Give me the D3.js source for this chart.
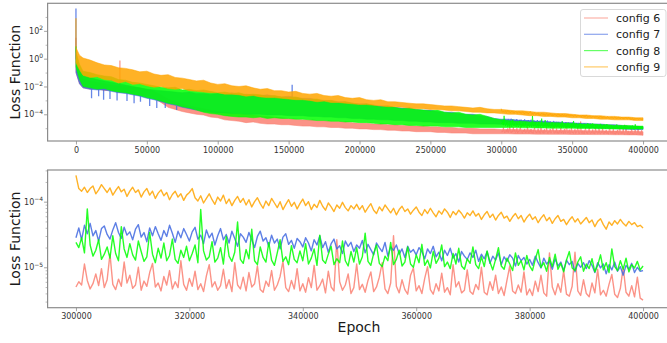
<!DOCTYPE html>
<html>
<head>
<meta charset="utf-8">
<script src="https://cdn.jsdelivr.net/npm/d3@7"></script>
<style>
  body { margin: 0; background: #fff; }
  text { font-family: "DejaVu Sans", sans-serif; }
</style>
</head>
<body>
<svg id="chart" width="667" height="343"></svg>
<script>
// loss values are kept as log10(loss)
const configs = ["config 6", "config 7", "config 8", "config 9"];
const colors = ["#fa8072", "#4169e1", "#00ff00", "#ffa500"];

// full run: the noisy curves are so dense they read as bands,
// so keep the upper / lower edge of each band
const bandEpochs = [0, 2500].concat(d3.range(5000, 400001, 5000));

const band6Hi = [
  0.0, -1.0, -1.5, -1.6, -1.7, -1.8, -1.9, -1.95, -2.0, -2.05,
  -2.1, -2.2, -2.35, -2.6, -2.9, -3.1, -3.3, -3.4, -3.5, -3.6,
  -3.7, -3.8, -3.85, -3.9, -3.95, -4.0, -4.05, -4.1, -4.15, -4.2,
  -4.25, -4.3, -4.35, -4.4, -4.4, -4.45, -4.45, -4.5, -4.5, -4.55,
  -4.6, -4.65, -4.65, -4.7, -4.7, -4.75, -4.75, -4.8, -4.8, -4.85,
  -4.85, -4.9, -4.9, -4.95, -4.95, -5.0, -5.0, -5.0, -5.05, -5.05,
  -5.05, -5.1, -5.1, -5.1, -5.12, -5.12, -5.14, -5.14, -5.15, -5.15,
  -5.16, -5.16, -5.17, -5.18, -5.18, -5.19, -5.2, -5.2, -5.21, -5.22,
  -5.22, -5.25
];
const band6Lo = [
  -1.0, -1.8, -2.1, -2.2, -2.15, -2.3, -2.25, -2.4, -2.45, -2.5,
  -2.6, -2.65, -2.85, -3.15, -3.5, -3.65, -3.8, -3.9, -4.0, -4.05,
  -4.2, -4.25, -4.4, -4.45, -4.5, -4.6, -4.55, -4.65, -4.7, -4.7,
  -4.75, -4.75, -4.8, -4.85, -4.85, -4.9, -4.9, -4.95, -4.95, -5.0,
  -5.0, -5.05, -5.05, -5.1, -5.1, -5.15, -5.15, -5.2, -5.2, -5.25,
  -5.25, -5.25, -5.3, -5.3, -5.35, -5.35, -5.35, -5.4, -5.4, -5.4,
  -5.4, -5.4, -5.4, -5.42, -5.42, -5.42, -5.43, -5.43, -5.44, -5.44,
  -5.44, -5.45, -5.45, -5.45, -5.46, -5.46, -5.46, -5.47, -5.47, -5.48,
  -5.48, -5.5
];
const band7Hi = [
  0.0, -0.8, -1.2, -1.35, -1.5, -1.6, -1.7, -1.8, -1.9, -2.0,
  -2.1, -2.2, -2.25, -2.3, -2.35, -2.4, -2.45, -2.4, -2.5, -2.5,
  -2.55, -2.5, -2.55, -2.45, -2.6, -2.55, -2.6, -2.65, -2.6, -2.7,
  -2.75, -2.7, -2.8, -2.85, -2.85, -2.95, -3.0, -3.0, -3.1, -3.1,
  -3.2, -3.25, -3.25, -3.35, -3.4, -3.4, -3.5, -3.55, -3.55, -3.65,
  -3.7, -3.7, -3.8, -3.85, -3.85, -3.95, -4.0, -4.0, -4.1, -4.15,
  -4.3, -4.35, -4.35, -4.4, -4.45, -4.45, -4.5, -4.5, -4.55, -4.55,
  -4.6, -4.6, -4.65, -4.65, -4.7, -4.7, -4.75, -4.75, -4.8, -4.85,
  -4.85, -4.9
];
const band7Lo = [
  -1.0, -1.8, -2.1, -2.2, -2.25, -2.25, -2.35, -2.45, -2.5, -2.6,
  -2.7, -2.85, -2.95, -3.1, -3.25, -3.35, -3.5, -3.6, -3.7, -3.8,
  -3.85, -3.9, -3.9, -3.95, -3.95, -4.0, -4.0, -4.0, -4.05, -4.05,
  -4.05, -4.1, -4.1, -4.1, -4.15, -4.15, -4.2, -4.2, -4.25, -4.25,
  -4.3, -4.3, -4.35, -4.35, -4.4, -4.4, -4.45, -4.45, -4.5, -4.5,
  -4.55, -4.55, -4.6, -4.6, -4.6, -4.65, -4.65, -4.65, -4.7, -4.7,
  -4.7, -4.72, -4.74, -4.76, -4.78, -4.8, -4.82, -4.84, -4.86, -4.88,
  -4.9, -4.92, -4.94, -4.96, -4.98, -5.0, -5.02, -5.04, -5.06, -5.08,
  -5.1, -5.1
];
const band8Hi = [
  0.5, -0.4, -0.9, -1.0, -1.15, -1.25, -1.3, -1.5, -1.55, -1.7,
  -1.75, -1.85, -1.95, -2.05, -2.1, -2.05, -2.25, -2.2, -2.3, -2.25,
  -2.35, -2.45, -2.4, -2.5, -2.45, -2.6, -2.55, -2.6, -2.7, -2.65,
  -2.75, -2.8, -2.75, -2.9, -2.95, -2.9, -3.05, -3.0, -3.15, -3.1,
  -3.2, -3.3, -3.25, -3.35, -3.45, -3.4, -3.5, -3.6, -3.55, -3.65,
  -3.7, -3.75, -3.7, -3.85, -3.9, -3.85, -4.0, -4.05, -4.0, -4.15,
  -4.3, -4.4, -4.45, -4.5, -4.5, -4.55, -4.55, -4.6, -4.6, -4.6,
  -4.65, -4.65, -4.7, -4.7, -4.7, -4.75, -4.75, -4.8, -4.8, -4.8,
  -4.85, -4.85
];
const band8Lo = [
  -0.6, -1.5, -2.0, -2.1, -2.2, -2.15, -2.3, -2.4, -2.45, -2.55,
  -2.65, -2.8, -2.9, -3.05, -3.2, -3.3, -3.45, -3.55, -3.7, -3.85,
  -3.95, -4.0, -4.1, -4.15, -4.2, -4.2, -4.25, -4.2, -4.3, -4.25,
  -4.3, -4.3, -4.35, -4.35, -4.4, -4.45, -4.45, -4.5, -4.5, -4.55,
  -4.55, -4.6, -4.6, -4.65, -4.7, -4.7, -4.75, -4.75, -4.8, -4.8,
  -4.85, -4.85, -4.85, -4.9, -4.9, -4.9, -4.95, -4.95, -4.95, -4.95,
  -4.95, -4.95, -4.95, -4.95, -4.97, -4.97, -4.98, -4.98, -5.0, -5.0,
  -5.0, -5.0, -5.02, -5.02, -5.03, -5.04, -5.04, -5.05, -5.05, -5.06,
  -5.06, -5.06
];
const band9Hi = [
  0.8, 0.25, 0.05, -0.1, -0.3, -0.45, -0.5, -0.65, -0.7, -0.8,
  -0.95, -0.9, -1.1, -1.2, -1.15, -1.35, -1.4, -1.5, -1.6, -1.55,
  -1.75, -1.85, -1.8, -1.95, -2.0, -1.95, -2.1, -2.2, -2.15, -2.3,
  -2.3, -2.4, -2.35, -2.5, -2.55, -2.5, -2.65, -2.7, -2.65, -2.8,
  -2.85, -2.8, -2.95, -3.0, -2.95, -3.1, -3.1, -3.15, -3.2, -3.25,
  -3.25, -3.3, -3.35, -3.4, -3.4, -3.45, -3.5, -3.55, -3.5, -3.6,
  -3.65, -3.65, -3.7, -3.75, -3.75, -3.8, -3.85, -3.85, -3.9, -3.95,
  -3.95, -4.0, -4.05, -4.05, -4.1, -4.1, -4.15, -4.15, -4.2, -4.2,
  -4.25, -4.25
];
const band9Lo = [
  -0.3, -0.8, -1.2, -1.35, -1.3, -1.5, -1.55, -1.75, -1.65, -1.85,
  -1.8, -1.95, -2.05, -2.0, -2.15, -2.2, -2.15, -2.3, -2.35, -2.4,
  -2.45, -2.45, -2.55, -2.55, -2.6, -2.7, -2.65, -2.75, -2.8, -2.8,
  -2.85, -2.9, -2.95, -2.95, -3.0, -3.1, -3.05, -3.15, -3.15, -3.2,
  -3.25, -3.3, -3.3, -3.35, -3.4, -3.45, -3.45, -3.5, -3.55, -3.6,
  -3.6, -3.65, -3.65, -3.7, -3.75, -3.75, -3.8, -3.85, -3.85, -3.9,
  -3.9, -3.95, -4.0, -4.0, -4.05, -4.1, -4.1, -4.15, -4.15, -4.2,
  -4.2, -4.25, -4.25, -4.3, -4.3, -4.35, -4.35, -4.4, -4.4, -4.4,
  -4.45, -4.45
];

// isolated spikes sticking out of the bands: [epoch, from, to]
const spikes6 = [[0, 0.0, 1.5], [31000, -2.0, -0.13]];
const spikes7 = [
  [0, 0.0, 3.6], [152500, -2.8, -1.87],
  [11000, -2.2, -2.85], [16000, -2.2, -2.7], [19500, -2.25, -2.95], [24000, -2.3, -2.9],
  [29000, -2.4, -3.0], [36000, -2.5, -3.05], [41000, -2.6, -3.2], [45500, -2.7, -3.1],
  [52000, -2.85, -3.4], [57000, -3.0, -3.55], [63000, -3.2, -3.55], [71000, -3.4, -3.7]
];
const spikes8 = [[0, 0.5, 0.9]];
const spikes9 = [[0, 0.8, 2.9]];

// 300k..400k, every 500 epochs (also drawn over the top panel bands)
const epochsLate = d3.range(300000, 400001, 500);

const log6Late = [
  -5.30, -5.22, -5.27, -4.95, -5.20, -5.33, -5.25, -5.10, -5.28, -5.02, -5.31, -5.19, -4.80, -5.26, -5.34, -5.18, -5.29, -4.92, -5.24, -5.12,
  -5.32, -5.27, -5.00, -5.35, -5.21, -5.29, -5.08, -4.94, -5.30, -5.24, -5.36, -5.14, -5.27, -5.05, -5.33, -5.22, -5.31, -4.90, -5.26, -5.35,
  -5.17, -5.29, -5.06, -5.34, -5.25, -5.37, -5.13, -4.96, -5.30, -5.22, -5.35, -5.28, -5.03, -5.32, -5.19, -5.37, -4.93, -5.27, -5.33, -5.15,
  -5.36, -5.08, -5.30, -5.25, -4.98, -5.34, -5.38, -5.21, -5.29, -5.05, -5.35, -5.27, -5.14, -4.91, -5.31, -5.37, -5.20, -5.33, -5.02, -5.36,
  -5.25, -5.38, -5.16, -5.31, -4.97, -5.35, -5.28, -5.18, -5.39, -5.06, -5.30, -5.36, -4.58, -5.22, -5.35, -5.27, -5.10, -5.40, -5.31, -4.95,
  -5.34, -5.26, -5.38, -5.20, -5.07, -5.37, -5.30, -5.15, -4.93, -5.33, -5.40, -5.24, -4.52, -5.29, -5.39, -5.19, -5.34, -5.41, -5.12, -5.01,
  -5.36, -5.28, -5.40, -5.17, -4.99, -5.34, -5.41, -5.25, -5.36, -5.09, -5.38, -5.31, -5.42, -4.96, -5.30, -5.22, -5.39, -5.35, -5.04, -5.37,
  -5.41, -5.26, -5.34, -5.00, -5.38, -5.42, -5.22, -5.35, -5.12, -5.40, -5.30, -5.43, -5.20, -4.98, -5.36, -5.40, -5.27, -5.38, -5.07, -5.42,
  -5.33, -5.43, -5.21, -5.37, -5.12, -5.39, -5.44, -4.78, -5.30, -5.42, -5.25, -5.38, -5.05, -5.41, -5.44, -5.29, -4.77, -5.36, -5.43, -5.19,
  -5.40, -5.45, -5.24, -5.39, -5.03, -5.42, -5.35, -5.44, -5.26, -5.11, -5.41, -5.46, -5.32, -5.00, -5.38, -5.44, -5.28, -5.45, -5.15, -5.47,
  -5.50
];
const log7Late = [
  -4.55, -4.40, -4.58, -4.36, -4.49, -4.33, -4.52, -4.44, -4.60, -4.41, -4.37, -4.50, -4.57, -4.43, -4.32, -4.47, -4.56, -4.39, -4.51, -4.46,
  -4.58, -4.42, -4.35, -4.54, -4.47, -4.61, -4.40, -4.52, -4.38, -4.49, -4.59, -4.44, -4.53, -4.36, -4.48, -4.62, -4.45, -4.55, -4.41, -4.50,
  -4.60, -4.46, -4.39, -4.57, -4.51, -4.64, -4.43, -4.55, -4.48, -4.66, -4.52, -4.41, -4.58, -4.50, -4.63, -4.45, -4.56, -4.68, -4.49, -4.54,
  -4.62, -4.47, -4.58, -4.70, -4.53, -4.45, -4.60, -4.55, -4.68, -4.51, -4.63, -4.57, -4.72, -4.54, -4.49, -4.65, -4.59, -4.71, -4.56, -4.61,
  -4.69, -4.55, -4.63, -4.75, -4.58, -4.66, -4.52, -4.70, -4.61, -4.77, -4.64, -4.57, -4.72, -4.67, -4.79, -4.60, -4.68, -4.62, -4.76, -4.66,
  -4.71, -4.59, -4.78, -4.65, -4.73, -4.81, -4.63, -4.70, -4.76, -4.62, -4.83, -4.69, -4.74, -4.66, -4.80, -4.72, -4.85, -4.68, -4.77, -4.73,
  -4.81, -4.70, -4.76, -4.87, -4.72, -4.79, -4.68, -4.84, -4.77, -4.90, -4.74, -4.82, -4.71, -4.86, -4.79, -4.92, -4.76, -4.83, -4.88, -4.78,
  -4.85, -4.74, -4.91, -4.80, -4.87, -4.76, -4.94, -4.83, -4.89, -4.78, -4.96, -4.84, -4.91, -4.81, -4.86, -4.98, -4.82, -4.90, -4.85, -4.95,
  -4.88, -4.97, -4.83, -4.93, -5.01, -4.86, -4.95, -4.90, -5.03, -4.87, -4.98, -4.92, -5.05, -4.89, -4.96, -4.91, -5.07, -4.94, -5.00, -4.93,
  -5.02, -4.90, -4.97, -5.08, -4.93, -5.01, -4.95, -5.10, -4.96, -5.04, -4.92, -5.06, -4.99, -5.12, -4.97, -5.03, -4.94, -5.08, -5.00, -5.06,
  -5.05
];
const log8Late = [
  -4.62, -4.70, -4.55, -4.78, -4.11, -4.66, -4.83, -4.74, -4.58, -4.88, -4.80, -4.69, -4.86, -4.52, -4.79, -4.90, -4.38, -4.72, -4.85, -4.64,
  -4.81, -4.89, -4.60, -4.76, -4.91, -4.84, -4.47, -4.80, -4.93, -4.71, -4.86, -4.63, -4.90, -4.82, -4.57, -4.88, -4.94, -4.74, -4.85, -4.68,
  -4.90, -4.79, -4.66, -4.93, -4.12, -4.75, -4.89, -4.84, -4.61, -4.92, -4.86, -4.70, -4.95, -4.53, -4.83, -4.91, -4.77, -4.31, -4.88, -4.94,
  -4.73, -4.87, -4.42, -4.90, -4.96, -4.69, -4.85, -4.92, -4.62, -4.89, -4.97, -4.78, -4.58, -4.91, -4.84, -4.96, -4.67, -4.88, -4.93, -4.75,
  -4.90, -4.64, -4.95, -4.86, -4.72, -4.97, -4.51, -4.89, -4.94, -4.80, -4.68, -4.96, -4.87, -4.93, -4.60, -4.90, -4.98, -4.76, -4.92, -4.70,
  -4.95, -4.84, -4.48, -4.91, -4.97, -4.79, -4.66, -4.94, -4.99, -4.83, -4.90, -4.62, -4.96, -4.88, -4.74, -4.98, -4.92, -4.69, -4.95, -5.00,
  -4.81, -4.93, -4.65, -4.97, -4.89, -5.01, -4.76, -4.94, -4.86, -4.66, -4.99, -4.92, -5.02, -4.79, -4.95, -4.71, -4.98, -5.03, -4.87, -4.94,
  -4.69, -4.96, -5.02, -4.84, -4.99, -4.75, -4.92, -5.04, -4.88, -4.70, -4.98, -5.03, -4.86, -4.95, -5.05, -4.78, -4.97, -4.90, -5.04, -4.82,
  -4.98, -5.05, -4.88, -4.73, -5.00, -4.93, -5.06, -4.85, -4.99, -4.80, -5.03, -4.94, -5.07, -4.89, -4.76, -5.01, -5.05, -4.92, -4.84, -5.06,
  -4.95, -5.02, -4.87, -5.07, -4.97, -4.81, -5.04, -4.93, -5.08, -4.72, -4.99, -5.05, -4.90, -5.03, -4.86, -5.07, -4.96, -5.01, -4.91, -5.04,
  -4.98
];
const log9Late = [
  -3.60, -3.80, -3.84, -3.78, -3.86, -3.80, -3.76, -3.88, -3.82, -3.74, -3.80, -3.86, -3.79, -3.90, -3.83, -3.77, -3.85, -3.81, -3.92, -3.84,
  -3.78, -3.86, -3.82, -3.93, -3.85, -3.80, -3.90, -3.84, -3.95, -3.87, -3.82, -3.91, -3.86, -3.97, -3.89, -3.84, -3.93, -3.88, -3.98, -3.90,
  -3.86, -3.80, -3.94, -3.99, -3.91, -4.02, -3.95, -3.88, -3.97, -4.04, -3.93, -3.99, -3.90, -4.03, -3.96, -4.06, -3.98, -3.92, -4.01, -3.95,
  -4.05, -3.97, -4.08, -4.00, -3.94, -4.03, -4.10, -3.99, -4.06, -3.95, -4.02, -4.09, -4.00, -4.12, -4.04, -3.97, -4.07, -4.01, -4.11, -4.03,
  -3.96, -4.06, -4.00, -4.12, -4.04, -4.09, -3.98, -4.07, -4.13, -4.02, -4.08, -4.15, -4.05, -4.10, -4.01, -4.09, -4.14, -4.06, -4.11, -4.04,
  -4.12, -4.06, -4.16, -4.09, -4.03, -4.13, -4.18, -4.08, -4.14, -4.05, -4.11, -4.17, -4.10, -4.20, -4.12, -4.07, -4.15, -4.11, -4.19, -4.13,
  -4.08, -4.16, -4.21, -4.12, -4.18, -4.10, -4.17, -4.23, -4.14, -4.19, -4.11, -4.16, -4.24, -4.15, -4.20, -4.13, -4.18, -4.25, -4.17, -4.21,
  -4.14, -4.22, -4.18, -4.27, -4.20, -4.15, -4.24, -4.19, -4.28, -4.21, -4.16, -4.25, -4.22, -4.30, -4.23, -4.18, -4.26, -4.21, -4.31, -4.24,
  -4.19, -4.27, -4.23, -4.32, -4.25, -4.20, -4.29, -4.24, -4.33, -4.26, -4.21, -4.30, -4.27, -4.35, -4.28, -4.23, -4.31, -4.26, -4.34, -4.29,
  -4.24, -4.32, -4.28, -4.38, -4.30, -4.26, -4.35, -4.42, -4.31, -4.36, -4.29, -4.34, -4.27, -4.33, -4.37, -4.30, -4.35, -4.32, -4.38, -4.36,
  -4.40
];

const xTicksTop = [0, 50000, 100000, 150000, 200000, 250000, 300000, 350000, 400000];
const xTicksBottom = [300000, 320000, 340000, 360000, 380000, 400000];
const yTicksTop = [2, 0, -2, -4];
const yMinorTop = [3, 1, -1, -3, -5];
const yTicksBottom = [-4, -5];

const bandsHi = [band6Hi, band7Hi, band8Hi, band9Hi];
const bandsLo = [band6Lo, band7Lo, band8Lo, band9Lo];
const spikes = [spikes6, spikes7, spikes8, spikes9];
const late = [log6Late, log7Late, log8Late, log9Late];

var svg = d3.select("#chart");
var axisColor = "#8c8c8c";
var textColor = "#333";
var left = 47.6, right = 671.4;
var p10 = e => Math.pow(10, e);

function drawPanel(opts) {
    var x = d3.scaleLinear().domain(opts.xDomain).range([left, right]);
    var y = d3.scaleLog().domain(opts.yDomain).range([opts.bottom, opts.top]);
    var g = svg.append("g");

    svg.append("clipPath").attr("id", opts.id)
        .append("rect")
        .attr("x", left).attr("y", opts.top)
        .attr("width", right - left).attr("height", opts.bottom - opts.top);

    var plot = g.append("g").attr("clip-path", "url(#" + opts.id + ")");

    var line = d3.line()
        .x(d => x(d[0]))
        .y(d => y(p10(d[1])));

    var area = d3.area()
        .x(d => x(d.ep))
        .y0(d => y(p10(d.lo)))
        .y1(d => y(p10(d.hi)));

    configs.forEach((c, i) => {
        if (opts.bands) {
            var band = bandEpochs.map((ep, k) => ({ep: ep, hi: bandsHi[i][k], lo: bandsLo[i][k]}));
            plot.append("path")
                .datum(band)
                .attr("fill", colors[i])
                .attr("fill-opacity", 0.85)
                .attr("stroke", colors[i])
                .attr("stroke-width", 1)
                .attr("stroke-opacity", 0.5)
                .attr("d", area);

            plot.selectAll(null)
                .data(spikes[i])
                .enter().append("line")
                .attr("x1", d => x(d[0])).attr("x2", d => x(d[0]))
                .attr("y1", d => y(p10(d[1]))).attr("y2", d => y(p10(d[2])))
                .attr("stroke", colors[i])
                .attr("stroke-width", 1.3)
                .attr("stroke-opacity", 0.8);
        }
        plot.append("path")
            .datum(d3.zip(epochsLate, late[i]))
            .attr("fill", "none")
            .attr("stroke", colors[i])
            .attr("stroke-width", opts.bands ? 0.9 : 1.4)
            .attr("stroke-opacity", 0.85)
            .attr("stroke-linejoin", "round")
            .attr("d", line);
    });

    // frame
    g.append("rect")
        .attr("x", left).attr("y", opts.top)
        .attr("width", right - left).attr("height", opts.bottom - opts.top)
        .attr("fill", "none")
        .attr("stroke", axisColor)
        .attr("stroke-width", 1.2);

    var xAxis = g.append("g")
        .attr("transform", "translate(0," + opts.bottom + ")")
        .call(d3.axisBottom(x).tickValues(opts.xTicks).tickSize(3.5).tickPadding(2.5).tickFormat(d3.format("d")));

    var yAxis = g.append("g")
        .attr("transform", "translate(" + left + ",0)")
        .call(d3.axisLeft(y).tickValues(opts.yTicks.map(p10)).tickSize(3.5).tickPadding(1));

    g.append("g")
        .attr("transform", "translate(" + left + ",0)")
        .call(d3.axisLeft(y).tickValues(opts.yMinor).tickSize(2).tickFormat(""))
        .call(a => a.select(".domain").remove())
        .selectAll("line").attr("stroke", axisColor).attr("stroke-width", 0.6);

    [xAxis, yAxis].forEach(a => {
        a.select(".domain").remove();
        a.selectAll(".tick line").attr("stroke", axisColor).attr("stroke-width", 0.8);
        a.selectAll(".tick text")
            .attr("fill", textColor)
            .attr("font-size", "8px")
            .attr("font-family", "DejaVu Sans, sans-serif");
    });

    // log labels as 10 with a superscript exponent
    yAxis.selectAll(".tick text")
        .text(null)
        .each(function (d) {
            var e = Math.round(Math.log10(d));
            var t = d3.select(this);
            t.append("tspan").text("10");
            t.append("tspan")
                .attr("dy", "-3.5")
                .attr("font-size", "6px")
                .text(String(e).replace("-", "\u2212"));
        });

    svg.append("text")
        .attr("transform", "translate(20," + (opts.top + opts.bottom) / 2 + ") rotate(-90)")
        .attr("text-anchor", "middle")
        .attr("font-size", "14px")
        .attr("fill", "#1a1a1a")
        .text("Loss Function");
}

var minorBottom = [];
[1e-6, 1e-5, 1e-4].forEach(b => {
    for (var k = 2; k <= 9; k++) minorBottom.push(b * k);
});

drawPanel({
    id: "clipTop",
    bands: true,
    xDomain: [-20000, 420000],
    yDomain: [p10(-5.92), p10(3.98)],
    top: 3.3, bottom: 141,
    xTicks: xTicksTop,
    yTicks: yTicksTop,
    yMinor: yMinorTop.map(p10)
});

drawPanel({
    id: "clipBottom",
    bands: false,
    xDomain: [295000, 405000],
    yDomain: [p10(-5.616), p10(-3.517)],
    top: 170, bottom: 307.7,
    xTicks: xTicksBottom,
    yTicks: yTicksBottom,
    yMinor: minorBottom.filter(v => v > p10(-5.616) && v < p10(-3.517))
});

svg.append("text")
    .attr("x", 359).attr("y", 332)
    .attr("text-anchor", "middle")
    .attr("font-size", "14px")
    .attr("fill", "#1a1a1a")
    .text("Epoch");

// legend
var legend = svg.append("g");
legend.append("rect")
    .attr("x", 580.5).attr("y", 9.5)
    .attr("width", 85.5).attr("height", 67)
    .attr("rx", 2.5)
    .attr("fill", "white").attr("fill-opacity", 0.8)
    .attr("stroke", "#d9d9d9");

configs.forEach((c, i) => {
    var ly = 18 + i * 16.3;
    legend.append("line")
        .attr("x1", 584).attr("x2", 608)
        .attr("y1", ly).attr("y2", ly)
        .attr("stroke", colors[i])
        .attr("stroke-width", 1.2)
        .attr("stroke-opacity", 0.6);
    legend.append("text")
        .attr("x", 616).attr("y", ly + 4)
        .attr("font-size", "11px")
        .attr("fill", "#222")
        .text(c);
});
</script>
</body>
</html>
